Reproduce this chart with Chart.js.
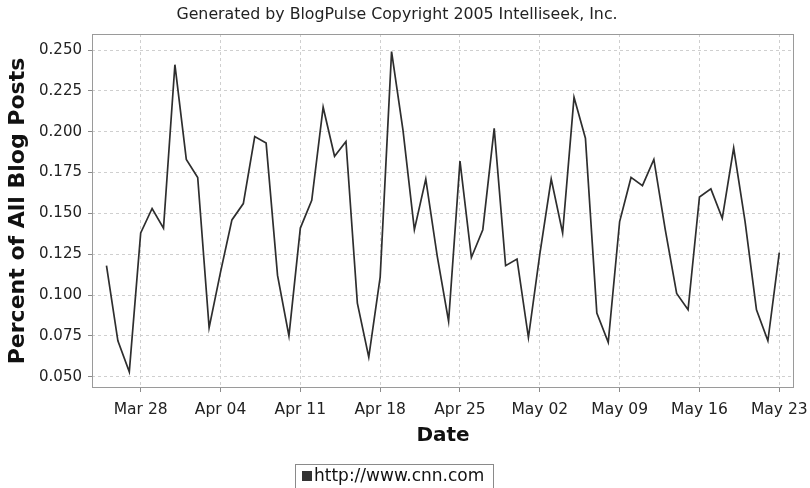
<!DOCTYPE html>
<html>
<head>
<meta charset="utf-8">
<script src="https://cdn.jsdelivr.net/npm/chart.js@4/dist/chart.umd.min.js"></script>
<style>
  html, body { margin: 0; padding: 0; background: #ffffff; }
  #wrap { width: 810px; height: 488px; }
</style>
</head>
<body>
<div id="wrap"><canvas id="c" width="810" height="488"></canvas></div>
<script>
// ---- data (one value per day, Mar 25 2005 .. May 23 2005) ----
const seriesName = 'http://www.cnn.com';
const cnnValues = [
  0.118, 0.072, 0.053, 0.138, 0.153, 0.141, 0.241, 0.183, 0.172, 0.080,
  0.114, 0.146, 0.156, 0.197, 0.193, 0.112, 0.075, 0.141, 0.158, 0.215,
  0.185, 0.194, 0.095, 0.062, 0.111, 0.249, 0.201, 0.140, 0.171, 0.124,
  0.084, 0.182, 0.123, 0.140, 0.202, 0.118, 0.122, 0.074, 0.125, 0.171,
  0.138, 0.221, 0.196, 0.089, 0.071, 0.145, 0.172, 0.167, 0.183, 0.140,
  0.101, 0.091, 0.160, 0.165, 0.147, 0.190, 0.145, 0.091, 0.072, 0.126
];
const xTickDays = [3, 10, 17, 24, 31, 38, 45, 52, 59];
const xTickLabels = ['Mar 28', 'Apr 04', 'Apr 11', 'Apr 18', 'Apr 25', 'May 02', 'May 09', 'May 16', 'May 23'];
const yTickValues = [0.050, 0.075, 0.100, 0.125, 0.150, 0.175, 0.200, 0.225, 0.250];
const chartTitle = 'Generated by BlogPulse Copyright 2005 Intelliseek, Inc.';
const xTitle = 'Date';
const yTitle = 'Percent of All Blog Posts';

const points = cnnValues.map((v, i) => ({ x: i, y: v }));

const frameAndLegend = {
  id: 'frameAndLegend',
  afterDatasetsDraw(chart) {
    const { ctx, chartArea: a } = chart;
    ctx.save();
    ctx.strokeStyle = '#9a9a9a';
    ctx.lineWidth = 1;
    ctx.strokeRect(Math.round(a.left) + 0.5, Math.round(a.top) + 0.5,
                   Math.round(a.right - a.left) - 1, Math.round(a.bottom - a.top) - 1);
    ctx.restore();
  },
  afterDraw(chart) {
    const { ctx } = chart;
    ctx.save();
    // legend box
    ctx.strokeStyle = '#8a8a8a';
    ctx.lineWidth = 1;
    ctx.strokeRect(295.5, 464.5, 198, 30);
    ctx.fillStyle = '#333333';
    ctx.fillRect(302, 471, 10, 10);
    ctx.fillStyle = '#111111';
    ctx.font = '17px "DejaVu Sans"';
    ctx.textBaseline = 'middle';
    ctx.textAlign = 'left';
    ctx.fillText(seriesName, 314, 477);
    ctx.restore();
  }
};

new Chart(document.getElementById('c'), {
  type: 'line',
  data: {
    datasets: [{
      label: seriesName,
      data: points,
      borderColor: '#2e2e2e',
      borderWidth: 1.7,
      pointRadius: 0,
      tension: 0,
      fill: false
    }]
  },
  options: {
    responsive: false,
    animation: false,
    layout: { padding: { left: 0, right: 16, top: 0, bottom: 38 } },
    plugins: {
      legend: { display: false },
      tooltip: { enabled: false },
      title: {
        display: true,
        text: chartTitle,
        color: '#222222',
        font: { family: 'DejaVu Sans', size: 15.8, weight: 'normal' },
        padding: { top: 5, bottom: 10.04 }
      }
    },
    scales: {
      x: {
        type: 'linear',
        min: -1.27,
        max: 60.29,
        afterBuildTicks(scale) { scale.ticks = xTickDays.map(v => ({ value: v })); },
        afterFit(scale) { scale.height = 62; scale.paddingLeft = 0; scale.paddingRight = 0; },
        ticks: {
          autoSkip: false,
          maxRotation: 0,
          padding: 9,
          color: '#222222',
          font: { family: 'DejaVu Sans', size: 15.5 },
          callback(value) { const k = xTickDays.indexOf(value); return k >= 0 ? xTickLabels[k] : ''; }
        },
        grid: {
          color: '#cfcfcf',
          tickBorderDash: [],
          tickColor: '#8a8a8a',
          tickLength: 4,
          lineWidth: 1
        },
        border: { display: false, dash: [3, 3] },
        title: {
          display: true,
          text: xTitle,
          color: '#111111',
          font: { family: 'DejaVu Sans', size: 20, weight: 'bold' },
          padding: { top: 0, bottom: 2 }
        }
      },
      y: {
        type: 'linear',
        min: 0.0431,
        max: 0.2598,
        afterBuildTicks(scale) { scale.ticks = yTickValues.map(v => ({ value: v })); },
        afterFit(scale) { scale.width = 92; scale.paddingTop = 0; scale.paddingBottom = 0; },
        ticks: {
          padding: 6,
          color: '#222222',
          font: { family: 'DejaVu Sans', size: 15 },
          callback(value) { return Number(value).toFixed(3); }
        },
        grid: {
          color: '#cfcfcf',
          tickBorderDash: [],
          tickColor: '#8a8a8a',
          tickLength: 4,
          lineWidth: 1
        },
        border: { display: false, dash: [3, 3] },
        title: {
          display: true,
          text: yTitle,
          color: '#111111',
          font: { family: 'DejaVu Sans', size: 22, weight: 'bold' },
          padding: { top: 5, bottom: 0 }
        }
      }
    }
  },
  plugins: [frameAndLegend]
});
</script>
</body>
</html>
